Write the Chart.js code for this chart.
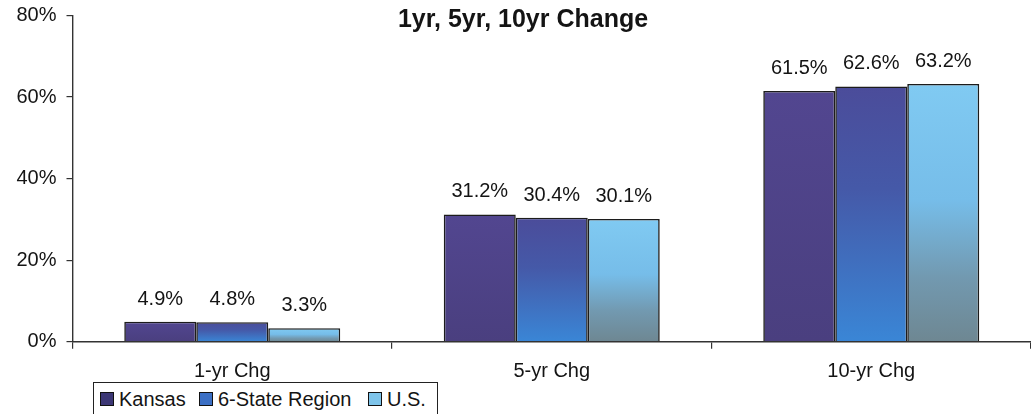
<!DOCTYPE html>
<html>
<head>
<meta charset="utf-8">
<script src="https://cdn.jsdelivr.net/npm/chart.js@4"></script>
<style>
  html, body { margin: 0; padding: 0; background: #fff; }
  #wrap { position: relative; width: 1031px; height: 414px; overflow: hidden; }
  #chart { position: absolute; left: 0; top: 0; }
  #legend {
    position: absolute; left: 93px; top: 382px; width: 345px; height: 40px;
    border: 1.5px solid #222; box-sizing: border-box; background: #fff;
    font-family: "Liberation Sans", Arial, sans-serif; font-size: 20px; color: #141414;
  }
  .item { position: absolute; top: 4px; height: 24px; display: flex; align-items: center; white-space: nowrap; }
  .sw { width: 14px; height: 14px; border: 1.5px solid #111; box-sizing: border-box; margin-right: 5px; flex: none; }
</style>
</head>
<body>
<div id="wrap">
  <canvas id="chart" width="1031" height="414"></canvas>
  <div id="legend"></div>
</div>
<script>
// Percent change over 1, 5 and 10 years
const categories = ['1-yr Chg', '5-yr Chg', '10-yr Chg'];
const kansas = [4.9, 31.2, 61.5];
const region = [4.8, 30.4, 62.6];
const us = [3.3, 30.1, 63.2];
const seriesNames = ['Kansas', '6-State Region', 'U.S.'];
const yMin = 0, yMax = 80, yStep = 20;
const titleText = '1yr, 5yr, 10yr Change';

const FONT = '"Liberation Sans", Arial, sans-serif';
const INK = '#141414';

// Vertical fills for each series (top colour -> bottom colour)
const fills = [
  ['#524690', '#4a3f7f'],
  ['#4b4c9a', '#3a86d6'],
  ['#80caf2', '#6e8792']
];
const swatchColors = ['#3c3775', '#3b6fc4', '#7ec4ea'];

function barFill(idx) {
  return function (ctx) {
    const chart = ctx.chart;
    const y = chart.scales && chart.scales.y;
    if (!chart.chartArea || !y || ctx.type !== 'data') return fills[idx][0];
    const top = y.getPixelForValue(ctx.raw);
    const bottom = y.getPixelForValue(0);
    const g = chart.ctx.createLinearGradient(0, top, 0, bottom);
    g.addColorStop(0, fills[idx][0]);
    if (idx === 1) g.addColorStop(0.4, '#4559a8');
    if (idx === 2) {
      g.addColorStop(0.45, '#76bde9');
      g.addColorStop(0.75, '#7299b0');
    }
    g.addColorStop(1, fills[idx][1]);
    return g;
  };
}

// Value printed above each bar
const valueLabels = {
  id: 'valueLabels',
  afterDatasetsDraw(chart) {
    const c = chart.ctx;
    c.save();
    c.font = '20px ' + FONT;
    c.fillStyle = INK;
    c.textAlign = 'center';
    c.textBaseline = 'alphabetic';
    chart.data.datasets.forEach((ds, i) => {
      chart.getDatasetMeta(i).data.forEach((bar, j) => {
        c.fillText(ds.data[j].toFixed(1) + '%', bar.x, bar.y - 17);
      });
    });
    c.restore();
  }
};

// Bold heading sitting over the top of the plot
const headline = {
  id: 'headline',
  afterDraw(chart) {
    const c = chart.ctx;
    c.save();
    c.font = 'bold 25px ' + FONT;
    c.fillStyle = INK;
    c.textAlign = 'center';
    c.textBaseline = 'alphabetic';
    c.fillText(titleText, 523, 27);
    c.restore();
  }
};

const datasets = [kansas, region, us].map((vals, i) => ({
  label: seriesNames[i],
  data: vals,
  backgroundColor: barFill(i),
  borderColor: '#1c1c1c',
  borderWidth: 1.6,
  categoryPercentage: 0.676,
  barPercentage: 1.0
}));

new Chart(document.getElementById('chart'), {
  type: 'bar',
  data: { labels: categories, datasets },
  plugins: [valueLabels, headline],
  options: {
    responsive: false,
    animation: false,
    layout: { padding: { top: 15.5, right: 0, bottom: 0, left: 0 } },
    plugins: { legend: { display: false }, title: { display: false }, tooltip: { enabled: false } },
    scales: {
      x: {
        offset: true,
        grid: { display: true, offset: true, drawOnChartArea: false, tickLength: 7, color: '#333', lineWidth: 1.2 },
        border: { display: true, color: '#333', width: 1.4 },
        ticks: { font: { family: FONT, size: 20 }, color: INK, padding: 11 },
        afterFit(s) { s.height = 72.3; s.paddingLeft = 0; s.paddingRight = 0; }
      },
      y: {
        min: yMin, max: yMax,
        grid: { display: true, drawOnChartArea: false, tickLength: 6, color: '#333', lineWidth: 1.2 },
        border: { display: true, color: '#333', width: 1.4 },
        ticks: { stepSize: yStep, font: { family: FONT, size: 20 }, color: INK, padding: 10,
                 callback: v => v + '%' },
        afterFit(s) { s.width = 72.5; s.paddingTop = 0; s.paddingBottom = 0; }
      }
    }
  }
});

// Boxed legend along the bottom edge
const legend = document.getElementById('legend');
const lefts = [6, 105, 274];
seriesNames.forEach((name, i) => {
  const item = document.createElement('div');
  item.className = 'item';
  item.style.left = lefts[i] + 'px';
  const sw = document.createElement('span');
  sw.className = 'sw';
  sw.style.background = swatchColors[i];
  const lbl = document.createElement('span');
  lbl.textContent = name;
  item.appendChild(sw);
  item.appendChild(lbl);
  legend.appendChild(item);
});
</script>
</body>
</html>
